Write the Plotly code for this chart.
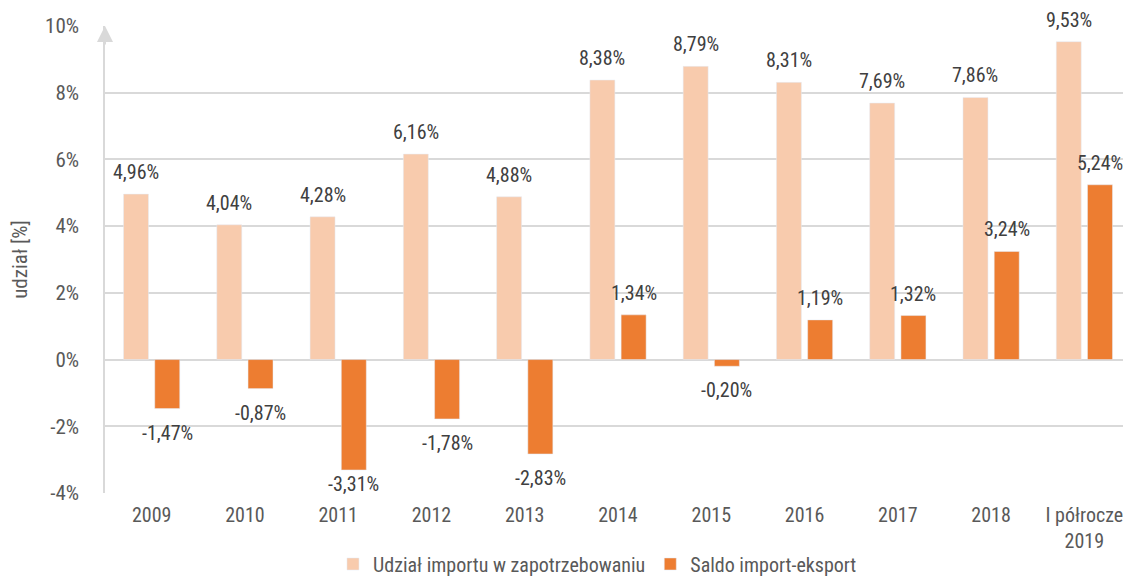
import plotly.graph_objects as go

categories = ["2009", "2010", "2011", "2012", "2013", "2014", "2015", "2016", "2017", "2018", "I półrocze<br>2019"]
import_share = [4.96, 4.04, 4.28, 6.16, 4.88, 8.38, 8.79, 8.31, 7.69, 7.86, 9.53]
saldo = [-1.47, -0.87, -3.31, -1.78, -2.83, 1.34, -0.20, 1.19, 1.32, 3.24, 5.24]
tick_vals = [-4, -2, 0, 2, 4, 6, 8, 10]
tick_text = ["-4%", "-2%", "0%", "2%", "4%", "6%", "8%", "10%"]

FONT = "Roboto Condensed, Liberation Sans Narrow, Arial Narrow, sans-serif"
W = 400

def fmt(v):
    return f"{v:.2f}%".replace(".", ",")

fig = go.Figure()
fig.add_trace(go.Bar(
    x=categories, y=import_share, name="Udział importu w zapotrzebowaniu",
    marker=dict(color="#F8CBAD"),
))
fig.add_trace(go.Bar(
    x=categories, y=saldo, name="Saldo import-eksport",
    marker=dict(color="#ED7D31"),
))

# label placement: above positive bars, below negative bars (kept inside the axis floor)
for series, dx in ((import_share, -15.6), (saldo, 15.6)):
    for i, v in enumerate(series):
        if v >= 0:
            y, ys = v, 22
        else:
            y, ys = max(v - 0.72, -3.72), 0
        fig.add_annotation(x=i, y=y, xref="x", yref="y", text=fmt(v), showarrow=False,
                           xshift=dx, yshift=ys, yanchor="middle",
                           font=dict(size=20, color="#404040", family=FONT, weight=W))

fig.update_layout(
    width=1123, height=571,
    margin=dict(l=97, r=0, t=18, b=86, autoexpand=False),
    paper_bgcolor="white", plot_bgcolor="white",
    barmode="group", bargap=0.33, bargroupgap=0.2,
    font=dict(family=FONT, color="#595959", size=20, weight=W),
    showlegend=True,
    legend=dict(orientation="h", x=0.48, xanchor="center", y=-0.152, yanchor="middle",
                font=dict(size=20, color="#595959", family=FONT, weight=W)),
    xaxis=dict(type="category", showgrid=False, showline=False, ticks="", automargin=False, ticklabelstandoff=8,
               tickfont=dict(size=20, color="#595959", family=FONT, weight=W)),
    yaxis=dict(range=[-4, 10], tickvals=tick_vals, ticktext=tick_text, automargin=False,
               showgrid=True, gridcolor="#D9D9D9", gridwidth=1.5,
               zeroline=True, zerolinecolor="#D9D9D9", zerolinewidth=1.5,
               showline=True, linecolor="#D9D9D9", linewidth=1.5,
               tickfont=dict(size=21, color="#595959", family=FONT, weight=W), ticks="", ticklabelstandoff=20,
               title=dict(text="udział [%]", font=dict(size=21, color="#595959", family=FONT, weight=W), standoff=47)),
)
fig.add_annotation(x=0, xref="paper", y=10, yref="y", ax=0, ay=20, axref="pixel", ayref="pixel",
                   showarrow=True, arrowhead=2, arrowsize=1.6, arrowwidth=2, arrowcolor="#D9D9D9", text="")
fig.write_html("out.html")
